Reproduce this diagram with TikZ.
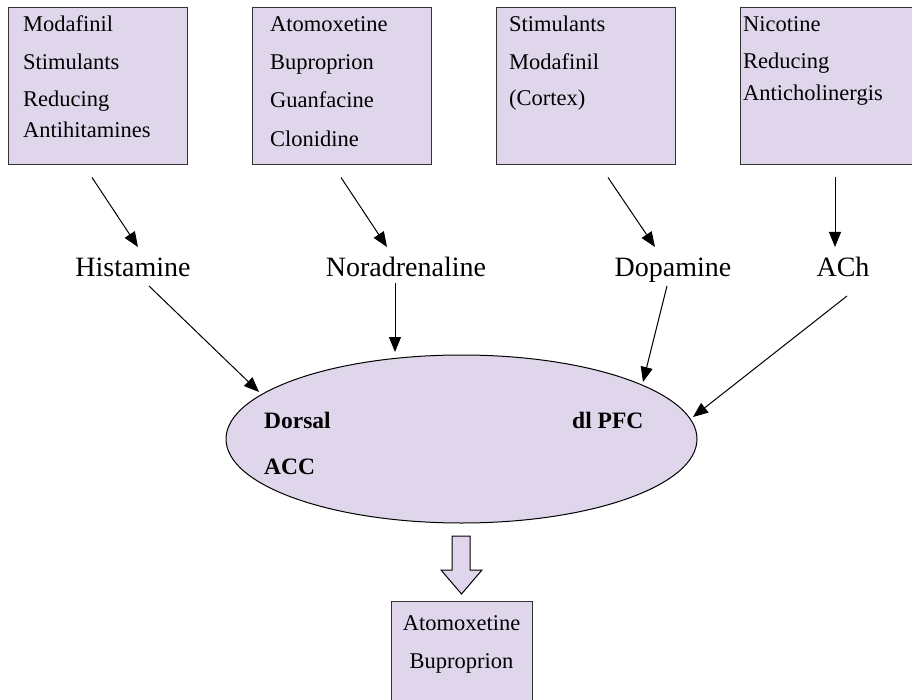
\documentclass[tikz,border=0pt]{standalone}
\usepackage{fontspec}
\setmainfont{Liberation Serif}
\usetikzlibrary{shapes.geometric,arrows.meta,calc}
\definecolor{lav}{HTML}{E0D6EC}
\definecolor{edge}{HTML}{333333}
\tikzset{
  drugbox/.style={draw=edge,line width=1pt,fill=lav,rectangle,inner sep=0pt,minimum width=179pt,minimum height=157pt},
  boxtxt/.style={anchor=base west,inner sep=0pt,font=\fontsize{22.5}{26}\selectfont},
  ctxt/.style={anchor=base,inner sep=0pt,font=\fontsize{22.5}{26}\selectfont},
  lbl/.style={anchor=base,inner sep=0pt,font=\fontsize{28}{32}\selectfont},
  btxt/.style={anchor=base west,inner sep=0pt,font=\fontsize{23.5}{27}\selectfont\bfseries},
  arr/.style={line width=1pt,-{Triangle[length=15pt,width=12pt]}},
}
\begin{document}
\begin{tikzpicture}[x=1pt,y=-1pt]
\useasboundingbox (0,0) rectangle (912,700);
% top boxes
\node[drugbox] (b1) at (97.5,86.5) {};
\node[drugbox] (b2) at (341.5,86.5) {};
\node[drugbox] (b3) at (585.5,86.5) {};
\node[drugbox] (b4) at (829.5,86.5) {};
% box texts
\node[boxtxt] (t11) at (23,32) {Modafinil};
\node[boxtxt] (t12) at (23,70) {Stimulants};
\node[boxtxt] (t13) at (23,107) {Reducing};
\node[boxtxt] (t14) at (23,138) {Antihitamines};
\node[boxtxt] (t21) at (270,32) {Atomoxetine};
\node[boxtxt] (t22) at (270,70) {Buproprion};
\node[boxtxt] (t23) at (270,108) {Guanfacine};
\node[boxtxt] (t24) at (270,147) {Clonidine};
\node[boxtxt] (t31) at (509,32) {Stimulants};
\node[boxtxt] (t32) at (509,70) {Modafinil};
\node[boxtxt] (t33) at (509,106) {(Cortex)};
\node[boxtxt] (t41) at (743,32) {Nicotine};
\node[boxtxt] (t42) at (743,69) {Reducing};
\node[boxtxt] (t43) at (743,101) {Anticholinergis};
% labels
\node[lbl] (hist) at (133,277) {Histamine};
\node[lbl] (nor) at (406,277) {Noradrenaline};
\node[lbl] (dop) at (673,277) {Dopamine};
\node[lbl] (ach) at (843,277) {ACh};
% ellipse
\node[ellipse,draw=black,line width=1pt,fill=lav,minimum width=471pt,minimum height=168pt,inner sep=0pt] (ell) at (461.5,439) {};
\node[btxt] (dorsal) at (264,428) {Dorsal};
\node[btxt] (acc) at (264,474) {ACC};
\node[btxt] (dlpfc) at (572,428) {dl PFC};
% arrows box -> label
\draw[arr] ($(b1.south)+(-5.5,12)$) -- ($(hist.base)+(5,-30)$);
\draw[arr] ($(b2.south)+(-0.5,12)$) -- ($(nor.base)+(-19,-30)$);
\draw[arr] ($(b3.south)+(22.5,12)$) -- ($(dop.base)+(-18,-30)$);
\draw[arr] ($(b4.south)+(5.5,12)$) -- ($(ach.base)+(-8,-30)$);
% arrows label -> ellipse
\draw[arr] ($(hist.base)+(16,9)$) -- ($(ell.center)+(-202.5,-47)$);
\draw[arr] ($(nor.base)+(-11,6)$) -- ($(ell.center)+(-66.5,-87)$);
\draw[arr] ($(dop.base)+(-6,9)$) -- ($(ell.center)+(181.5,-57)$);
\draw[arr] ($(ach.base)+(4,19)$) -- ($(ell.center)+(231.5,-22)$);
% block arrow
\draw[line width=1pt,fill=lav] (452,536) -- (470,536) -- (470,570) -- (482,570) -- (461.5,594) -- (441,570) -- (452,570) -- cycle;
% bottom box
\node[draw=edge,line width=1pt,fill=lav,rectangle,inner sep=0pt,minimum width=141pt,minimum height=130pt] (bb) at (461.5,666) {};
\node[ctxt] (bt1) at (461.5,630) {Atomoxetine};
\node[ctxt] (bt2) at (461.5,668) {Buproprion};
\end{tikzpicture}
\end{document}
